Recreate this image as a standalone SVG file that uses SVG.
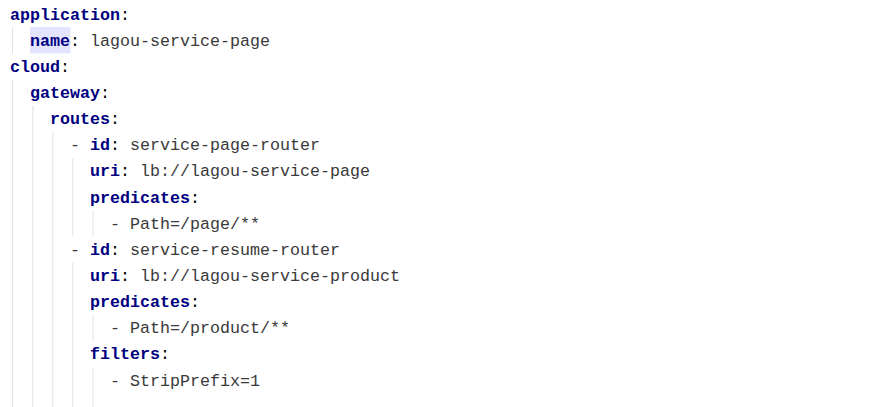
<svg xmlns="http://www.w3.org/2000/svg" width="890" height="407" viewBox="0 0 890 407">
<style>
.code{font-family:"Liberation Mono","Courier New",monospace;font-size:16.667px;fill:#3a3a3a;}
.k{fill:#000080;font-weight:bold;}
.p{fill:#000000;}
.g{stroke:#e2e2e2;stroke-width:1;fill:none;}
</style>
<rect width="890" height="407" fill="#ffffff"/>
<g id="highlight">
<rect x="30" y="27" width="40.5" height="26.3" fill="#e4e4ff"/>
</g>
<g id="indent-guides" class="g">
<line x1="12.5" y1="27.1" x2="12.5" y2="53.3"/>
<line x1="12.5" y1="79.5" x2="12.5" y2="407"/>
<line x1="32.8" y1="105.6" x2="32.8" y2="407"/>
<line x1="52.8" y1="131.8" x2="52.8" y2="407"/>
<line x1="72.8" y1="157.9" x2="72.8" y2="236.4"/>
<line x1="72.8" y1="262.5" x2="72.8" y2="407"/>
<line x1="93" y1="210.2" x2="93" y2="236.4"/>
<line x1="93" y1="314.8" x2="93" y2="341"/>
<line x1="93" y1="367.1" x2="93" y2="407"/>
</g>
<g id="code" class="code" xml:space="preserve">
<text x="10" y="19.5"><tspan class="k">application</tspan><tspan class="p">:</tspan></text>
<text x="30" y="45.65"><tspan class="k">name</tspan><tspan class="p">:</tspan> lagou-service-page</text>
<text x="10" y="71.8"><tspan class="k">cloud</tspan><tspan class="p">:</tspan></text>
<text x="30" y="97.95"><tspan class="k">gateway</tspan><tspan class="p">:</tspan></text>
<text x="50" y="124.1"><tspan class="k">routes</tspan><tspan class="p">:</tspan></text>
<text x="70" y="150.25">- <tspan class="k">id</tspan><tspan class="p">:</tspan> service-page-router</text>
<text x="90" y="176.4"><tspan class="k">uri</tspan><tspan class="p">:</tspan> lb://lagou-service-page</text>
<text x="90" y="202.55"><tspan class="k">predicates</tspan><tspan class="p">:</tspan></text>
<text x="110" y="228.7">- Path=/page/**</text>
<text x="70" y="254.85">- <tspan class="k">id</tspan><tspan class="p">:</tspan> service-resume-router</text>
<text x="90" y="281"><tspan class="k">uri</tspan><tspan class="p">:</tspan> lb://lagou-service-product</text>
<text x="90" y="307.15"><tspan class="k">predicates</tspan><tspan class="p">:</tspan></text>
<text x="110" y="333.3">- Path=/product/**</text>
<text x="90" y="359.45"><tspan class="k">filters</tspan><tspan class="p">:</tspan></text>
<text x="110" y="385.6">- StripPrefix=1</text>
</g>
</svg>
